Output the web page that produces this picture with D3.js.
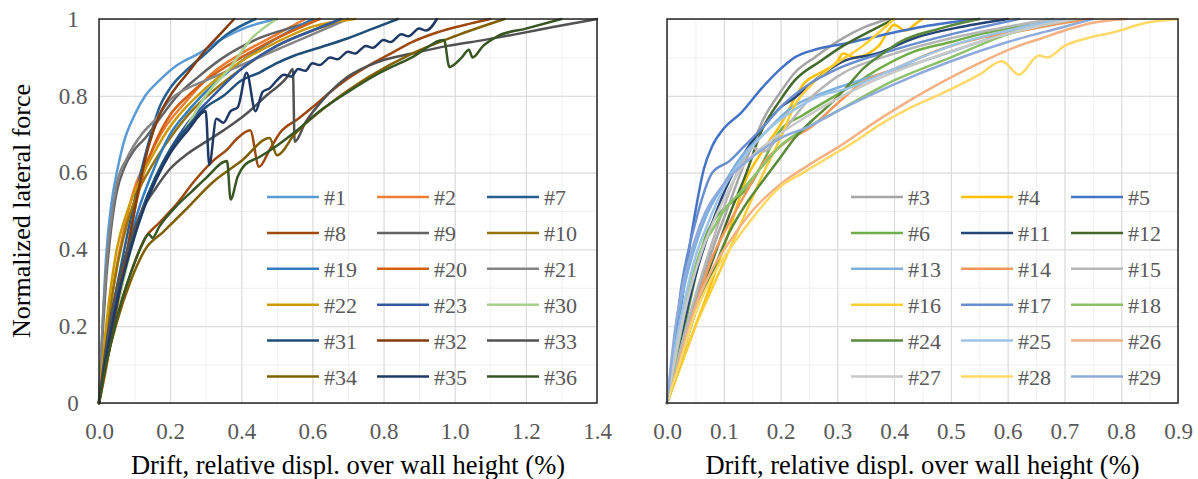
<!DOCTYPE html>
<html>
<head>
<meta charset="utf-8">
<script src="https://cdn.jsdelivr.net/npm/d3@7"></script>
<style>
  body { margin: 0; background: #fff; }
  text { font-family: 'Liberation Serif', 'Times New Roman', serif; }
</style>
</head>
<body>
<script>
// ---- data (drift %, normalized force) ----
var leftIds = ['#1', '#2', '#7', '#8', '#9', '#10', '#19', '#20', '#21', '#22', '#23', '#30', '#31', '#32', '#33', '#34', '#35', '#36'];
var rightIds = ['#3', '#4', '#5', '#6', '#11', '#12', '#13', '#14', '#15', '#16', '#17', '#18', '#24', '#25', '#26', '#27', '#28', '#29'];

var leftXTicks = [0, 0.2, 0.4, 0.6, 0.8, 1.0, 1.2, 1.4];
var rightXTicks = [0, 0.1, 0.2, 0.3, 0.4, 0.5, 0.6, 0.7, 0.8, 0.9];
var yTicks = [0, 0.2, 0.4, 0.6, 0.8, 1];

var s1 = [[0,0],[0.01,0.2],[0.02,0.38],[0.035,0.52],[0.05,0.6],[0.07,0.68],[0.1,0.75],[0.13,0.8],[0.17,0.84],[0.22,0.88],[0.28,0.91],[0.35,0.95],[0.42,0.98],[0.5,1.0]];
var s2 = [[0,0],[0.02,0.15],[0.04,0.3],[0.07,0.45],[0.1,0.56],[0.14,0.64],[0.18,0.71],[0.24,0.78],[0.32,0.86],[0.4,0.91],[0.5,0.96],[0.58,1.0]];
var s7 = [[0,0],[0.02,0.14],[0.05,0.3],[0.08,0.44],[0.11,0.57],[0.14,0.68],[0.17,0.77],[0.2,0.82],[0.25,0.87],[0.3,0.91],[0.36,0.96],[0.44,1.0]];
var s8 = [[0,0],[0.02,0.1],[0.05,0.22],[0.09,0.34],[0.13,0.43],[0.17,0.47],[0.22,0.52],[0.27,0.58],[0.32,0.63],[0.36,0.66],[0.39,0.69],[0.425,0.71],[0.45,0.615],[0.48,0.66],[0.51,0.705],[0.56,0.74],[0.6,0.77],[0.65,0.81],[0.7,0.845],[0.76,0.88],[0.82,0.91],[0.88,0.94],[0.95,0.965],[1.03,0.985],[1.1,1.0]];
var s9 = [[0,0],[0.01,0.18],[0.02,0.32],[0.035,0.46],[0.05,0.55],[0.07,0.61],[0.1,0.66],[0.13,0.69],[0.17,0.74],[0.22,0.8],[0.28,0.85],[0.35,0.9],[0.45,0.95],[0.55,0.98],[0.62,1.0]];
var s10 = [[0,0],[0.02,0.17],[0.05,0.35],[0.08,0.47],[0.11,0.55],[0.15,0.62],[0.2,0.69],[0.26,0.76],[0.33,0.82],[0.4,0.87],[0.5,0.93],[0.6,0.97],[0.7,1.0]];
var s19 = [[0,0],[0.02,0.12],[0.05,0.28],[0.08,0.4],[0.11,0.5],[0.15,0.6],[0.2,0.7],[0.25,0.76],[0.3,0.81],[0.4,0.89],[0.5,0.95],[0.6,1.0]];
var s20 = [[0,0],[0.02,0.09],[0.04,0.2],[0.06,0.3],[0.08,0.4],[0.1,0.5],[0.12,0.58],[0.15,0.66],[0.2,0.75],[0.25,0.8],[0.3,0.84],[0.4,0.9],[0.5,0.95],[0.62,1.0]];
var s21 = [[0,0],[0.01,0.2],[0.02,0.35],[0.035,0.48],[0.05,0.57],[0.08,0.64],[0.12,0.7],[0.16,0.74],[0.2,0.79],[0.25,0.82],[0.3,0.84],[0.4,0.88],[0.5,0.92],[0.6,0.96],[0.7,1.0]];
var s22 = [[0,0],[0.02,0.2],[0.05,0.4],[0.08,0.5],[0.12,0.59],[0.16,0.66],[0.2,0.72],[0.3,0.82],[0.4,0.89],[0.5,0.94],[0.6,0.98],[0.72,1.0]];
var s23 = [[0,0],[0.02,0.12],[0.05,0.27],[0.08,0.38],[0.12,0.5],[0.16,0.59],[0.2,0.66],[0.25,0.73],[0.3,0.78],[0.4,0.87],[0.5,0.93],[0.6,0.97],[0.68,1.0]];
var s30 = [[0,0],[0.02,0.1],[0.05,0.24],[0.09,0.4],[0.13,0.52],[0.17,0.61],[0.22,0.68],[0.26,0.74],[0.3,0.8],[0.37,0.875],[0.425,0.945],[0.5,1.0]];
var s31 = [[0,0],[0.02,0.12],[0.05,0.27],[0.08,0.38],[0.12,0.5],[0.16,0.59],[0.2,0.66],[0.25,0.72],[0.3,0.77],[0.35,0.8],[0.4,0.84],[0.45,0.86],[0.5,0.885],[0.55,0.905],[0.6,0.92],[0.7,0.95],[0.77,0.975],[0.84,1.0]];
var s32 = [[0,0],[0.02,0.1],[0.05,0.25],[0.08,0.4],[0.11,0.55],[0.14,0.67],[0.17,0.75],[0.2,0.8],[0.25,0.86],[0.3,0.92],[0.34,0.96],[0.38,1.0]];
var s33 = [[0,0],[0.02,0.15],[0.05,0.3],[0.08,0.4],[0.12,0.5],[0.16,0.56],[0.2,0.61],[0.25,0.65],[0.3,0.68],[0.35,0.71],[0.41,0.75],[0.47,0.8],[0.53,0.85],[0.545,0.87],[0.55,0.68],[0.58,0.73],[0.63,0.79],[0.7,0.85],[0.79,0.89],[0.88,0.91],[0.98,0.93],[1.08,0.945],[1.17,0.96],[1.28,0.98],[1.4,1.0]];
var s34 = [[0,0],[0.02,0.1],[0.05,0.21],[0.09,0.32],[0.13,0.4],[0.18,0.445],[0.24,0.5],[0.32,0.575],[0.4,0.63],[0.48,0.69],[0.5,0.645],[0.55,0.7],[0.65,0.78],[0.76,0.85],[0.88,0.91],[1.0,0.955],[1.14,1.0]];
var s35 = [[0,0],[0.02,0.12],[0.05,0.26],[0.08,0.37],[0.12,0.49],[0.16,0.58],[0.2,0.65],[0.25,0.71],[0.3,0.76],[0.31,0.62],[0.33,0.74],[0.35,0.73],[0.37,0.76],[0.39,0.77],[0.415,0.86],[0.44,0.76],[0.46,0.81],[0.48,0.82],[0.5,0.84],[0.52,0.855],[0.54,0.85],[0.56,0.87],[0.58,0.865],[0.6,0.885],[0.62,0.88],[0.65,0.9],[0.67,0.895],[0.7,0.915],[0.72,0.91],[0.75,0.93],[0.77,0.925],[0.8,0.945],[0.82,0.94],[0.85,0.96],[0.87,0.955],[0.9,0.975],[0.92,0.97],[0.95,1.0]];
var s36 = [[0,0],[0.02,0.1],[0.05,0.22],[0.09,0.34],[0.12,0.41],[0.14,0.44],[0.15,0.43],[0.17,0.46],[0.22,0.515],[0.26,0.55],[0.3,0.585],[0.36,0.63],[0.37,0.53],[0.39,0.59],[0.41,0.62],[0.45,0.64],[0.5,0.67],[0.55,0.705],[0.62,0.76],[0.7,0.81],[0.79,0.86],[0.88,0.9],[0.97,0.945],[0.985,0.875],[1.02,0.9],[1.04,0.92],[1.05,0.9],[1.08,0.93],[1.12,0.955],[1.2,0.975],[1.3,1.0]];

var s3 = [[0,0],[0.02,0.13],[0.05,0.27],[0.08,0.4],[0.11,0.52],[0.13,0.6],[0.15,0.67],[0.17,0.74],[0.2,0.81],[0.225,0.86],[0.26,0.9],[0.31,0.95],[0.35,0.98],[0.39,1.0]];
var s4 = [[0,0],[0.02,0.08],[0.05,0.2],[0.08,0.32],[0.11,0.45],[0.137,0.575],[0.17,0.66],[0.2,0.725],[0.243,0.835],[0.27,0.86],[0.3,0.89],[0.31,0.91],[0.33,0.9],[0.373,0.93],[0.39,0.97],[0.4,0.985],[0.42,0.97],[0.44,0.99],[0.45,1.0]];
var s5 = [[0,0],[0.01,0.1],[0.025,0.25],[0.035,0.36],[0.049,0.49],[0.065,0.61],[0.08,0.67],[0.1,0.715],[0.13,0.755],[0.167,0.82],[0.2,0.87],[0.225,0.9],[0.26,0.92],[0.31,0.935],[0.4,0.965],[0.45,0.98],[0.55,1.0]];
var s6 = [[0,0],[0.02,0.12],[0.04,0.26],[0.067,0.43],[0.09,0.49],[0.12,0.53],[0.15,0.575],[0.17,0.63],[0.197,0.705],[0.24,0.75],[0.285,0.79],[0.33,0.83],[0.373,0.87],[0.435,0.915],[0.5,0.94],[0.55,0.96],[0.62,0.98],[0.68,1.0]];
var s11 = [[0,0],[0.02,0.14],[0.05,0.33],[0.08,0.47],[0.11,0.58],[0.14,0.66],[0.17,0.72],[0.2,0.77],[0.225,0.795],[0.26,0.84],[0.31,0.89],[0.37,0.91],[0.435,0.95],[0.52,0.98],[0.6,1.0]];
var s12 = [[0,0],[0.02,0.1],[0.05,0.25],[0.08,0.37],[0.11,0.49],[0.14,0.6],[0.167,0.71],[0.2,0.79],[0.225,0.84],[0.27,0.89],[0.31,0.93],[0.36,0.97],[0.4,1.0]];
var s13 = [[0,0],[0.015,0.18],[0.03,0.3],[0.05,0.41],[0.07,0.49],[0.1,0.57],[0.13,0.64],[0.17,0.7],[0.22,0.77],[0.28,0.81],[0.35,0.845],[0.45,0.89],[0.55,0.94],[0.67,1.0]];
var s14 = [[0,0],[0.02,0.1],[0.05,0.25],[0.08,0.38],[0.11,0.47],[0.14,0.55],[0.167,0.62],[0.21,0.68],[0.255,0.72],[0.3,0.78],[0.345,0.835],[0.4,0.87],[0.49,0.925],[0.55,0.95],[0.61,0.965],[0.68,0.985],[0.745,1.0]];
var s15 = [[0,0],[0.02,0.12],[0.05,0.28],[0.08,0.42],[0.11,0.55],[0.13,0.62],[0.15,0.665],[0.17,0.655],[0.2,0.7],[0.25,0.79],[0.3,0.85],[0.4,0.91],[0.5,0.95],[0.6,0.98],[0.68,1.0]];
var s16 = [[0,0],[0.02,0.08],[0.05,0.2],[0.08,0.3],[0.11,0.4],[0.14,0.5],[0.167,0.59],[0.2,0.69],[0.225,0.775],[0.255,0.83],[0.285,0.87],[0.345,0.93],[0.4,1.0]];
var s17 = [[0,0],[0.01,0.12],[0.025,0.3],[0.05,0.47],[0.08,0.6],[0.11,0.63],[0.137,0.67],[0.17,0.72],[0.2,0.77],[0.25,0.83],[0.3,0.87],[0.4,0.92],[0.5,0.96],[0.62,1.0]];
var s18 = [[0,0],[0.02,0.15],[0.04,0.3],[0.06,0.4],[0.08,0.45],[0.1,0.5],[0.13,0.55],[0.17,0.62],[0.2,0.67],[0.25,0.72],[0.3,0.76],[0.4,0.84],[0.5,0.9],[0.6,0.96],[0.72,1.0]];
var s24 = [[0,0],[0.02,0.09],[0.049,0.23],[0.08,0.34],[0.11,0.445],[0.14,0.52],[0.167,0.575],[0.2,0.64],[0.225,0.69],[0.255,0.735],[0.285,0.775],[0.315,0.82],[0.345,0.87],[0.38,0.91],[0.41,0.94],[0.48,0.975],[0.55,1.0]];
var s25 = [[0,0],[0.015,0.15],[0.03,0.26],[0.05,0.38],[0.07,0.46],[0.1,0.56],[0.13,0.63],[0.17,0.7],[0.22,0.76],[0.27,0.8],[0.32,0.82],[0.4,0.87],[0.5,0.93],[0.6,0.97],[0.7,1.0]];
var s26 = [[0,0],[0.02,0.1],[0.05,0.25],[0.08,0.35],[0.11,0.42],[0.15,0.5],[0.2,0.57],[0.25,0.62],[0.3,0.665],[0.375,0.74],[0.43,0.79],[0.49,0.84],[0.55,0.885],[0.61,0.925],[0.66,0.95],[0.7,0.97],[0.75,0.99],[0.81,1.0]];
var s27 = [[0,0],[0.02,0.16],[0.04,0.29],[0.07,0.43],[0.1,0.53],[0.13,0.61],[0.18,0.68],[0.25,0.75],[0.35,0.83],[0.45,0.89],[0.55,0.94],[0.65,0.98],[0.72,1.0]];
var s28 = [[0,0],[0.02,0.09],[0.049,0.23],[0.08,0.33],[0.11,0.4],[0.155,0.49],[0.197,0.56],[0.24,0.6],[0.285,0.64],[0.33,0.68],[0.375,0.725],[0.43,0.77],[0.49,0.81],[0.55,0.855],[0.59,0.89],[0.62,0.855],[0.655,0.905],[0.67,0.9],[0.7,0.93],[0.74,0.95],[0.785,0.965],[0.845,0.99],[0.9,1.0]];
var s29 = [[0,0],[0.015,0.2],[0.03,0.32],[0.06,0.47],[0.1,0.57],[0.15,0.64],[0.2,0.69],[0.25,0.72],[0.3,0.76],[0.4,0.83],[0.5,0.89],[0.6,0.94],[0.7,0.98],[0.75,1.0]];

var leftSeries = [s1, s2, s7, s8, s9, s10, s19, s20, s21, s22, s23, s30, s31, s32, s33, s34, s35, s36];
var rightSeries = [s3, s4, s5, s6, s11, s12, s13, s14, s15, s16, s17, s18, s24, s25, s26, s27, s28, s29];

// Excel-style series colours, keyed by label
var colors = {
  '#1': '#5B9BD5', '#2': '#ED7D31', '#3': '#A5A5A5', '#4': '#FFC000', '#5': '#4472C4', '#6': '#70AD47',
  '#7': '#255E91', '#8': '#9E480E', '#9': '#636363', '#10': '#997300', '#11': '#264478', '#12': '#43682B',
  '#13': '#7CAFDD', '#14': '#F1975A', '#15': '#B7B7B7', '#16': '#FFCD33', '#17': '#698ED0', '#18': '#8CC168',
  '#19': '#327DC2', '#20': '#D26012', '#21': '#848484', '#22': '#CC9A00', '#23': '#335AA1', '#24': '#5A8A39',
  '#25': '#9DC3E6', '#26': '#F4B183', '#27': '#C9C9C9', '#28': '#FFD966', '#29': '#8FAADC', '#30': '#A9D18E',
  '#31': '#1F4E79', '#32': '#843C0C', '#33': '#525252', '#34': '#7F6000', '#35': '#203864', '#36': '#375623'
};

var svg = d3.select('body').append('svg')
    .attr('width', 1198)
    .attr('height', 479);

var plotTop = 19, plotBottom = 403;

function panel(opts) {
  var x = d3.scaleLinear().domain([0, opts.xMax]).range([opts.left, opts.right]);
  var y = d3.scaleLinear().domain([0, 1]).range([plotBottom, plotTop]);
  var g = svg.append('g');

  // minor grid
  g.append('g')
      .attr('transform', 'translate(0,' + plotBottom + ')')
      .call(d3.axisBottom(x).tickValues(d3.range(0, opts.xMax + 1e-9, opts.minor)).tickSize(-(plotBottom - plotTop)).tickFormat(''))
      .call(function(a) { a.select('.domain').remove(); a.selectAll('line').attr('stroke', '#f0f0f0'); });
  g.append('g')
      .attr('transform', 'translate(' + opts.left + ',0)')
      .call(d3.axisLeft(y).tickValues(d3.range(0, 1.0001, 0.1)).tickSize(-(opts.right - opts.left)).tickFormat(''))
      .call(function(a) { a.select('.domain').remove(); a.selectAll('line').attr('stroke', '#f0f0f0'); });
  // major grid
  g.append('g')
      .attr('transform', 'translate(0,' + plotBottom + ')')
      .call(d3.axisBottom(x).tickValues(opts.xTicks).tickSize(-(plotBottom - plotTop)).tickFormat(''))
      .call(function(a) { a.select('.domain').remove(); a.selectAll('line').attr('stroke', '#d9d9d9'); });
  g.append('g')
      .attr('transform', 'translate(' + opts.left + ',0)')
      .call(d3.axisLeft(y).tickValues(yTicks).tickSize(-(opts.right - opts.left)).tickFormat(''))
      .call(function(a) { a.select('.domain').remove(); a.selectAll('line').attr('stroke', '#d9d9d9'); });

  // x tick labels
  g.append('g')
      .attr('transform', 'translate(0,' + plotBottom + ')')
      .call(d3.axisBottom(x).tickValues(opts.xTicks).tickSize(0).tickPadding(20).tickFormat(d3.format('.1f')))
      .call(function(a) {
        a.select('.domain').remove();
        a.selectAll('text').attr('fill', '#595959').style('font-size', '23px').style('font-family', "'Liberation Serif', serif");
      });

  if (opts.yLabels) {
    g.append('g')
        .attr('transform', 'translate(' + opts.left + ',0)')
        .call(d3.axisLeft(y).tickValues(yTicks).tickSize(0).tickFormat(d3.format('')))
        .call(function(a) {
          a.select('.domain').remove();
          a.selectAll('text').attr('fill', '#595959').attr('text-anchor', 'middle').attr('x', -26)
              .style('font-size', '23px').style('font-family', "'Liberation Serif', serif");
        });
  }

  var line = d3.line()
      .x(function(d) { return x(d[0]); })
      .y(function(d) { return y(d[1]); })
      .curve(d3.curveMonotoneX);

  g.selectAll('path.series')
      .data(opts.series)
      .enter().append('path')
      .attr('class', 'series')
      .attr('d', line)
      .attr('fill', 'none')
      .attr('stroke', function(d, i) { return colors[opts.ids[i]]; })
      .attr('stroke-width', 2.5)
      .attr('stroke-linejoin', 'round')
      .attr('stroke-linecap', 'round');

  // frame
  g.append('rect')
      .attr('x', opts.left)
      .attr('y', plotTop)
      .attr('width', opts.right - opts.left)
      .attr('height', plotBottom - plotTop)
      .attr('fill', 'none')
      .attr('stroke', '#262626')
      .attr('stroke-width', 1.5);

  // legend, 3 columns x 6 rows
  var leg = g.selectAll('g.leg')
      .data(opts.ids)
      .enter().append('g')
      .attr('class', 'leg')
      .attr('transform', function(d, i) {
        return 'translate(' + (opts.legX + (i % 3) * 110) + ',' + (197 + Math.floor(i / 3) * 35.9) + ')';
      });
  leg.append('line')
      .attr('x1', 0).attr('x2', 52)
      .attr('y1', 0).attr('y2', 0)
      .attr('stroke', function(d) { return colors[d]; })
      .attr('stroke-width', 2.5);
  leg.append('text')
      .attr('x', 57)
      .attr('y', 8)
      .attr('fill', '#595959')
      .style('font-size', '22px')
      .text(function(d) { return d; });

  // x title
  g.append('text')
      .attr('x', (opts.left + opts.right) / 2)
      .attr('y', 474)
      .attr('text-anchor', 'middle')
      .attr('fill', '#000')
      .style('font-size', '26.5px')
      .text('Drift, relative displ. over wall height (%)');
}

panel({ left: 99, right: 597, xMax: 1.4, xTicks: leftXTicks, minor: 0.1, yLabels: true,
        ids: leftIds, series: leftSeries, legX: 267 });
panel({ left: 667, right: 1178, xMax: 0.9, xTicks: rightXTicks, minor: 0.05, yLabels: false,
        ids: rightIds, series: rightSeries, legX: 851 });

svg.append('text')
    .attr('transform', 'translate(30,211) rotate(-90)')
    .attr('text-anchor', 'middle')
    .attr('fill', '#000')
    .style('font-size', '26px')
    .text('Normalized lateral force');
</script>
</body>
</html>
